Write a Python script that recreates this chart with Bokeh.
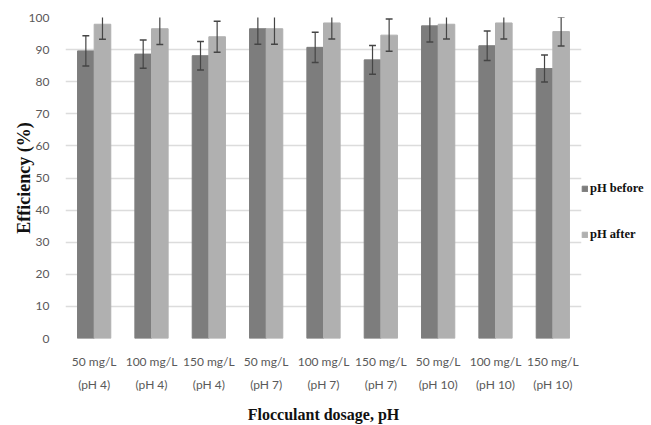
from bokeh.plotting import figure
from bokeh.models import ColumnDataSource, Legend, LegendItem, FactorRange
from bokeh.transform import dodge
from bokeh.embed import file_html
from bokeh.resources import INLINE

categories = ["50 mg/L\n(pH 4)", "100 mg/L\n(pH 4)", "150 mg/L\n(pH 4)",
              "50 mg/L\n(pH 7)", "100 mg/L\n(pH 7)", "150 mg/L\n(pH 7)",
              "50 mg/L\n(pH 10)", "100 mg/L\n(pH 10)", "150 mg/L\n(pH 10)"]
before = [89.6, 88.6, 88.1, 96.5, 90.7, 86.8, 97.4, 91.2, 84.1]
before_err = [4.7, 4.4, 4.45, 4.8, 4.7, 4.5, 5.0, 4.6, 4.2]
after = [97.9, 96.5, 94.0, 96.5, 98.3, 94.5, 97.9, 98.3, 95.6]
after_err = [4.7, 4.9, 4.8, 4.8, 5.0, 5.0, 4.6, 5.0, 4.5]
series_labels = ["pH before", "pH after"]
y_ticks = list(range(0, 101, 10))

src = ColumnDataSource(dict(
    cat=categories,
    before=before, b_lo=[v - e for v, e in zip(before, before_err)], b_hi=[v + e for v, e in zip(before, before_err)],
    after=after, a_lo=[v - e for v, e in zip(after, after_err)], a_hi=[v + e for v, e in zip(after, after_err)],
))

p = figure(x_range=FactorRange(*categories, range_padding=0), y_range=(0, 100),
           frame_width=516, frame_height=321,
           min_border_left=65, min_border_top=17, min_border_right=0, min_border_bottom=2,
           output_backend="svg", toolbar_location=None, background_fill_color="white")
p.outline_line_color = None

BW = 0.29
OFF = 0.145
CAP = 0.06
dark = "#7d7d7d"
light = "#b0b0b0"
ebar = "#454545"

r1 = p.vbar(x=dodge("cat", -OFF, range=p.x_range), top="before", width=BW, source=src,
            fill_color=dark, line_color=dark)
r2 = p.vbar(x=dodge("cat", OFF, range=p.x_range), top="after", width=BW, source=src,
            fill_color=light, line_color=light)

for off, lo, hi in [(-OFF, "b_lo", "b_hi"), (OFF, "a_lo", "a_hi")]:
    p.segment(x0=dodge("cat", off, range=p.x_range), x1=dodge("cat", off, range=p.x_range),
              y0=lo, y1=hi, source=src, line_color=ebar, line_width=1.2)
    for end in (lo, hi):
        p.segment(x0=dodge("cat", off - CAP, range=p.x_range), x1=dodge("cat", off + CAP, range=p.x_range),
                  y0=end, y1=end, source=src, line_color=ebar, line_width=1.5)

p.xgrid.grid_line_color = None
p.ygrid.grid_line_color = "#dcdcdc"
p.ygrid.grid_line_width = 1.5
p.yaxis.ticker = y_ticks

for ax in (p.xaxis, p.yaxis):
    ax.axis_line_color = None
    ax.major_tick_line_color = None
    ax.minor_tick_line_color = None
    ax.major_label_text_font = "Lato"
    ax.major_label_text_font_size = "12px"
    ax.major_label_text_color = "#595959"
    ax.axis_label_text_font = "Liberation Serif"
    ax.axis_label_text_font_style = "bold"
    ax.axis_label_text_color = "#111111"

p.yaxis.axis_label = "Efficiency (%)"
p.yaxis.axis_label_text_font_size = "18px"
p.yaxis.major_label_standoff = 10
p.yaxis.axis_label_standoff = -8
p.xaxis.axis_label = "Flocculant dosage, pH"
p.xaxis.axis_label_text_font_size = "16px"
p.xaxis.major_label_standoff = 9
p.xaxis.major_label_text_line_height = 1.55
p.xaxis.axis_label_standoff = 11
p.xaxis.major_label_orientation = "horizontal"

legend = Legend(items=[LegendItem(label=series_labels[0], renderers=[r1]),
                       LegendItem(label=series_labels[1], renderers=[r2])],
                location=(0, 96), orientation="vertical",
                margin=0, padding=0, spacing=31,
                glyph_width=7, glyph_height=7, label_standoff=2,
                label_text_font="Liberation Serif", label_text_font_style="bold",
                label_text_font_size="12.5px", label_text_color="#111111",
                border_line_color=None, background_fill_alpha=0)
p.add_layout(legend, "right")

open("out.html", "w").write(file_html(p, INLINE))
